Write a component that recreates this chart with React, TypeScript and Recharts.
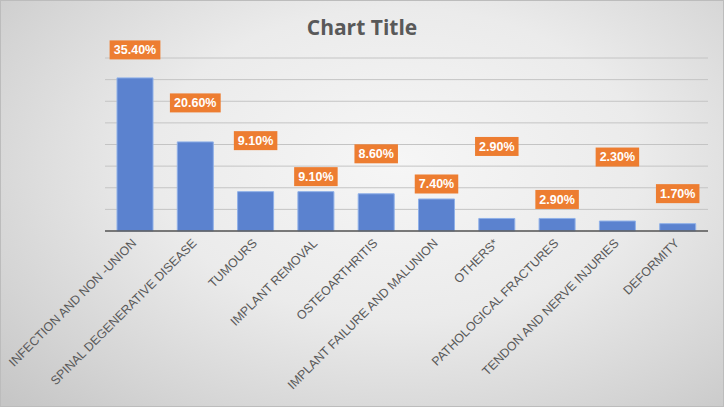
import { Bar, BarChart, CartesianGrid, LabelList, XAxis, YAxis } from "recharts";

const CATEGORIES = [
  "INFECTION AND NON -UNION",
  "SPINAL DEGENERATIVE DISEASE",
  "TUMOURS",
  "IMPLANT REMOVAL",
  "OSTEOARTHRITIS",
  "IMPLANT FAILURE AND MALUNION",
  "OTHERS*",
  "PATHOLOGICAL  FRACTURES",
  "TENDON AND NERVE INJURIES",
  "DEFORMITY",
];
const PERCENTS = [35.4, 20.6, 9.1, 9.1, 8.6, 7.4, 2.9, 2.9, 2.3, 1.7];
const Y_TICKS = [0, 5, 10, 15, 20, 25, 30, 35, 40];

// how far (px) each label box sits above its bar, as placed in the original
const LABEL_LIFT = [28, 39, 51, 15, 40, 15, 72, 19, 64, 30];

const W = 724;
const H = 407;
const BLUE = "#5b82cf";
const ORANGE = "#ed7d31";
const GREY = "#595959";

const data = CATEGORIES.map((name, i) => ({ name, value: PERCENTS[i] }));

function ValueBox(props: any) {
  const { x, y, width, value, index } = props;
  const text = `${Number(value).toFixed(2)}%`;
  const boxW = text.length * 7.3 + 7;
  const cx = x + width / 2;
  const cy = y - LABEL_LIFT[index];
  return (
    <g>
      <rect x={cx - boxW / 2} y={cy - 9.5} width={boxW} height={19} fill={ORANGE} />
      <text
        x={cx}
        y={cy}
        dy="0.35em"
        textAnchor="middle"
        fill="#fff"
        fontSize={12.5}
        fontWeight="bold"
        fontFamily="Liberation Sans, Arial, sans-serif"
      >
        {text}
      </text>
    </g>
  );
}

function SlantTick(props: any) {
  const { x, y, payload } = props;
  const tx = x + 2;
  const ty = y + 13;
  return (
    <text
      x={tx}
      y={ty}
      textAnchor="end"
      fill={GREY}
      fontSize={12.4}
      fontFamily="Liberation Sans, Arial, sans-serif"
      transform={`rotate(-45, ${tx}, ${ty})`}
    >
      {payload.value}
    </text>
  );
}

export default function App() {
  return (
    <div
      style={{
        position: "absolute",
        left: 0,
        top: 0,
        width: W,
        height: H,
        boxSizing: "border-box",
        border: "1px solid #bcbcbc",
        background:
          "radial-gradient(ellipse 75% 85% at 55% 40%, #f6f6f6 0%, #ebebeb 45%, #d4d4d4 80%, #c6c6c6 100%)",
      }}
    >
      <div
        style={{
          position: "absolute",
          top: 12,
          width: "100%",
          textAlign: "center",
          fontFamily: "Open Sans, sans-serif",
          fontWeight: "bold",
          fontSize: 21,
          color: GREY,
        }}
      >
        Chart Title
      </div>
      <BarChart
        width={W - 2}
        height={H - 2}
        data={data}
        margin={{ top: 57, right: 15, left: 104, bottom: 0 }}
        style={{ position: "absolute", left: 0, top: 0 }}
      >
        <CartesianGrid vertical={false} stroke="#c4c4c4" strokeWidth={1} />
        <YAxis hide domain={[0, 40]} ticks={Y_TICKS} interval={0} />
        <XAxis
          dataKey="name"
          interval={0}
          height={175}
          tick={<SlantTick />}
          tickLine={false}
          tickSize={0}
          tickMargin={0}
          axisLine={{ stroke: GREY, strokeWidth: 1.5 }}
        />
        <Bar dataKey="value" fill={BLUE} stroke="#8fb0e8" strokeWidth={1} barSize={36} isAnimationActive={false}>
          <LabelList dataKey="value" content={<ValueBox />} />
        </Bar>
      </BarChart>
    </div>
  );
}
